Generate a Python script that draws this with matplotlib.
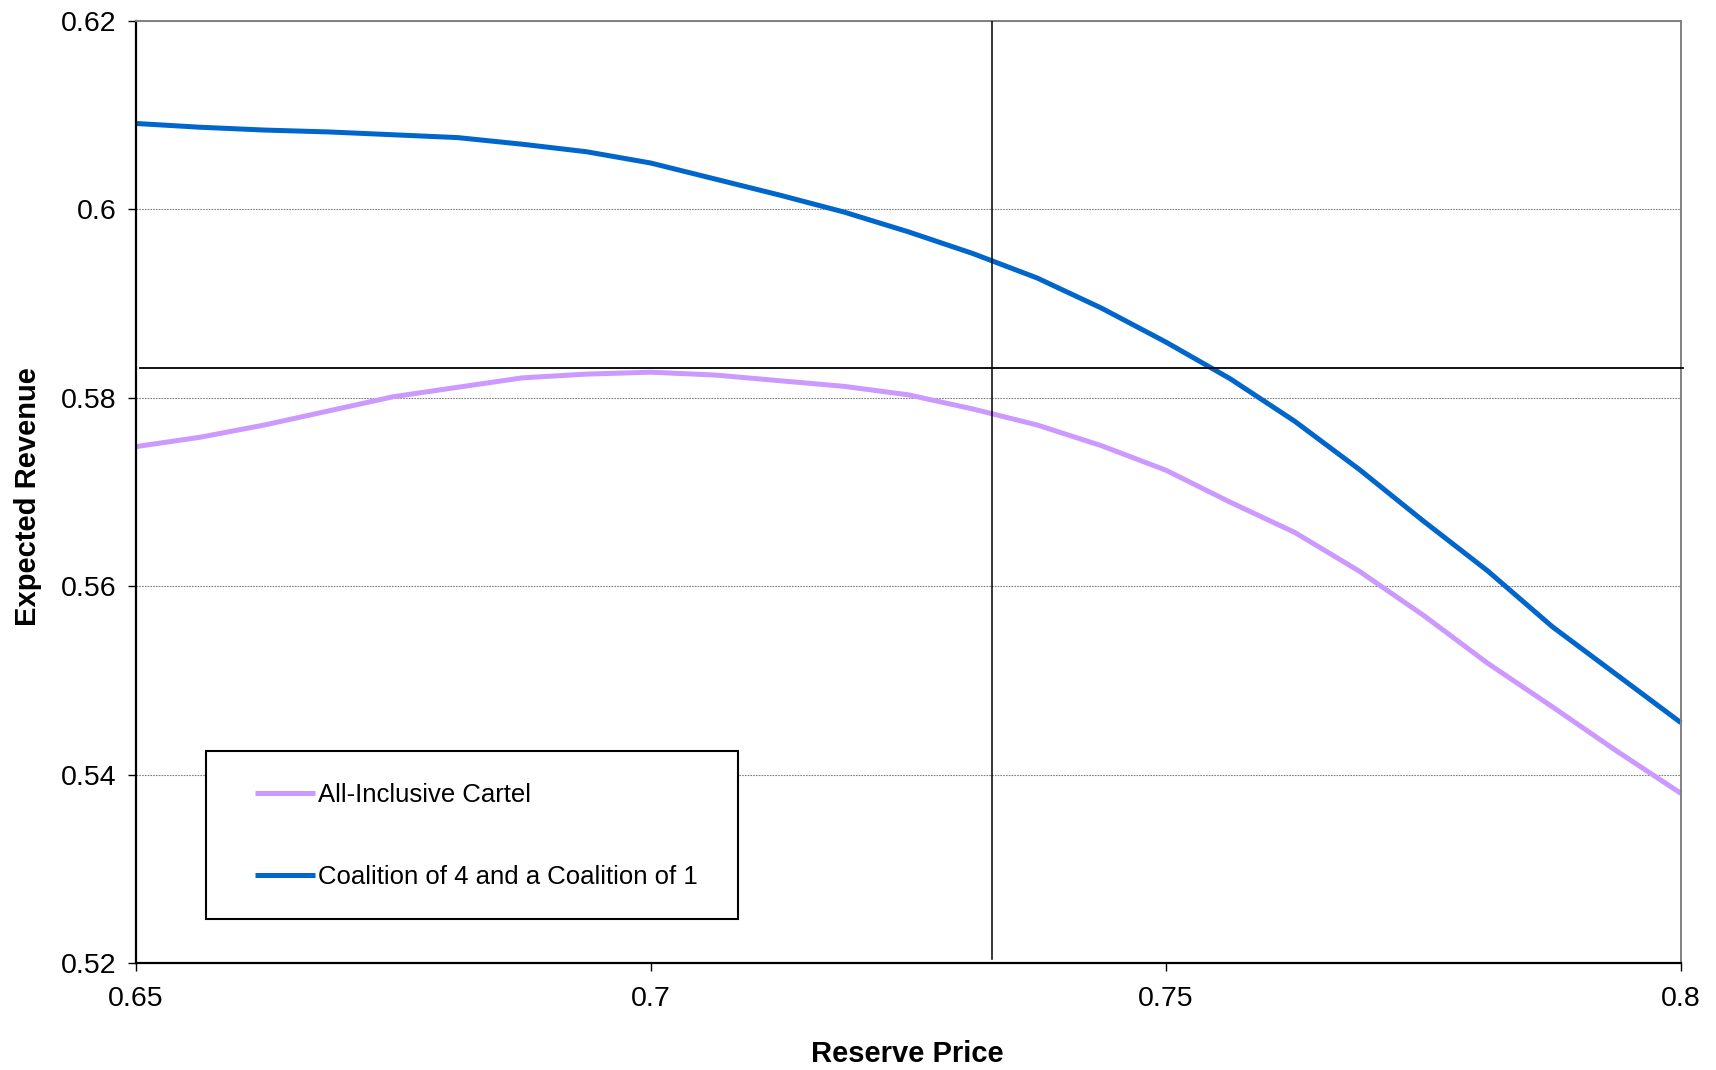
import matplotlib
matplotlib.use("Agg")
import matplotlib.pyplot as plt
from matplotlib.patches import Rectangle
from matplotlib.ticker import FuncFormatter

plt.rcParams['font.family'] = ['Liberation Sans', 'DejaVu Sans']

# reserve prices on the x axis
reserve_price = [0.65, 0.65625, 0.6625, 0.66875, 0.675, 0.68125, 0.6875, 0.69375,
                 0.7, 0.70625, 0.7125, 0.71875, 0.725, 0.73125, 0.7375, 0.74375,
                 0.75, 0.75625, 0.7625, 0.76875, 0.775, 0.78125, 0.7875, 0.79375, 0.8]

# expected revenue for each market structure
cartel_revenue = [0.5748, 0.5758, 0.5771, 0.5786, 0.5801, 0.5811, 0.5821, 0.5825,
                  0.5827, 0.5824, 0.5818, 0.5812, 0.5803, 0.5788, 0.5771, 0.5749,
                  0.5723, 0.5689, 0.5657, 0.5616, 0.5569, 0.5518, 0.5472, 0.5425, 0.5380]
coalition_revenue = [0.6091, 0.6087, 0.6084, 0.6082, 0.6079, 0.6076, 0.6069, 0.6061,
                     0.6049, 0.6032, 0.6015, 0.5997, 0.5976, 0.5953, 0.5927, 0.5895,
                     0.5859, 0.5820, 0.5775, 0.5724, 0.5669, 0.5616, 0.5557, 0.5506, 0.5455]

series_labels = ['All-Inclusive Cartel', 'Coalition of 4 and a Coalition of 1']
series_colors = ['#CC99FF', '#0066CC']

# reference lines
ref_revenue = 0.5831
ref_price = 0.7331

x_ticks = [0.65, 0.7, 0.75, 0.8]
y_ticks = [0.52, 0.54, 0.56, 0.58, 0.6, 0.62]

fig = plt.figure(figsize=(17.16, 10.70), dpi=100)
ax = fig.add_axes([0.0791, 0.1000, 0.9005, 0.8806])

for vals, lab, col in zip([cartel_revenue, coalition_revenue], series_labels, series_colors):
    ax.plot(reserve_price, vals, color=col, lw=3.6, label=lab, zorder=2.5,
            solid_capstyle='butt', clip_on=False)

ax.axhline(ref_revenue, xmin=0.003, xmax=1.0015, color='black', lw=1.3, zorder=3, clip_on=False)
ax.axvline(ref_price, ymin=0.0042, ymax=1.0, color='black', lw=1.1, zorder=3)

ax.set_xlim(0.65, 0.8)
ax.set_ylim(0.52, 0.62)
ax.set_xticks(x_ticks)
ax.set_yticks(y_ticks)
fmt = FuncFormatter(lambda v, pos: '{:g}'.format(round(v, 4)))
ax.xaxis.set_major_formatter(fmt)
ax.yaxis.set_major_formatter(fmt)

ax.yaxis.grid(True, color='#808080', lw=0.8, linestyle=(0, (1.5, 1)))
ax.set_axisbelow(True)

for side in ['left', 'bottom']:
    ax.spines[side].set_color('black')
    ax.spines[side].set_linewidth(1.6)
for side in ['top', 'right']:
    ax.spines[side].set_color('#808080')
    ax.spines[side].set_linewidth(1.4)

ax.tick_params(axis='x', direction='out', length=5.5, width=1, labelsize=20.5, pad=11)
ax.tick_params(axis='y', direction='out', length=5.5, width=1, labelsize=20.5, pad=8.4)

ax.set_xlabel('Reserve Price', fontsize=21, fontweight='bold')
ax.xaxis.set_label_coords(0.499, -0.1052)
ax.xaxis.label.set_va('baseline')
ax.set_ylabel('Expected Revenue', fontsize=21, fontweight='bold')
ax.yaxis.set_label_coords(-0.0694, 0.4953)
ax.yaxis.label.set_va('center')

# legend box and entries
ax.add_patch(Rectangle((0.0453, 0.0464), 0.3442, 0.1788, transform=ax.transAxes,
                       facecolor='white', edgecolor='black', lw=1.5, zorder=4))
leg = ax.legend(loc='upper left', bbox_to_anchor=(0.0772, 0.1913), frameon=False,
                borderpad=0, borderaxespad=0, fontsize=18.5, handlelength=2.33,
                handletextpad=0.12, labelspacing=2.28)
leg.set_zorder(5)

fig.savefig('out.png', dpi=100, facecolor='white')
